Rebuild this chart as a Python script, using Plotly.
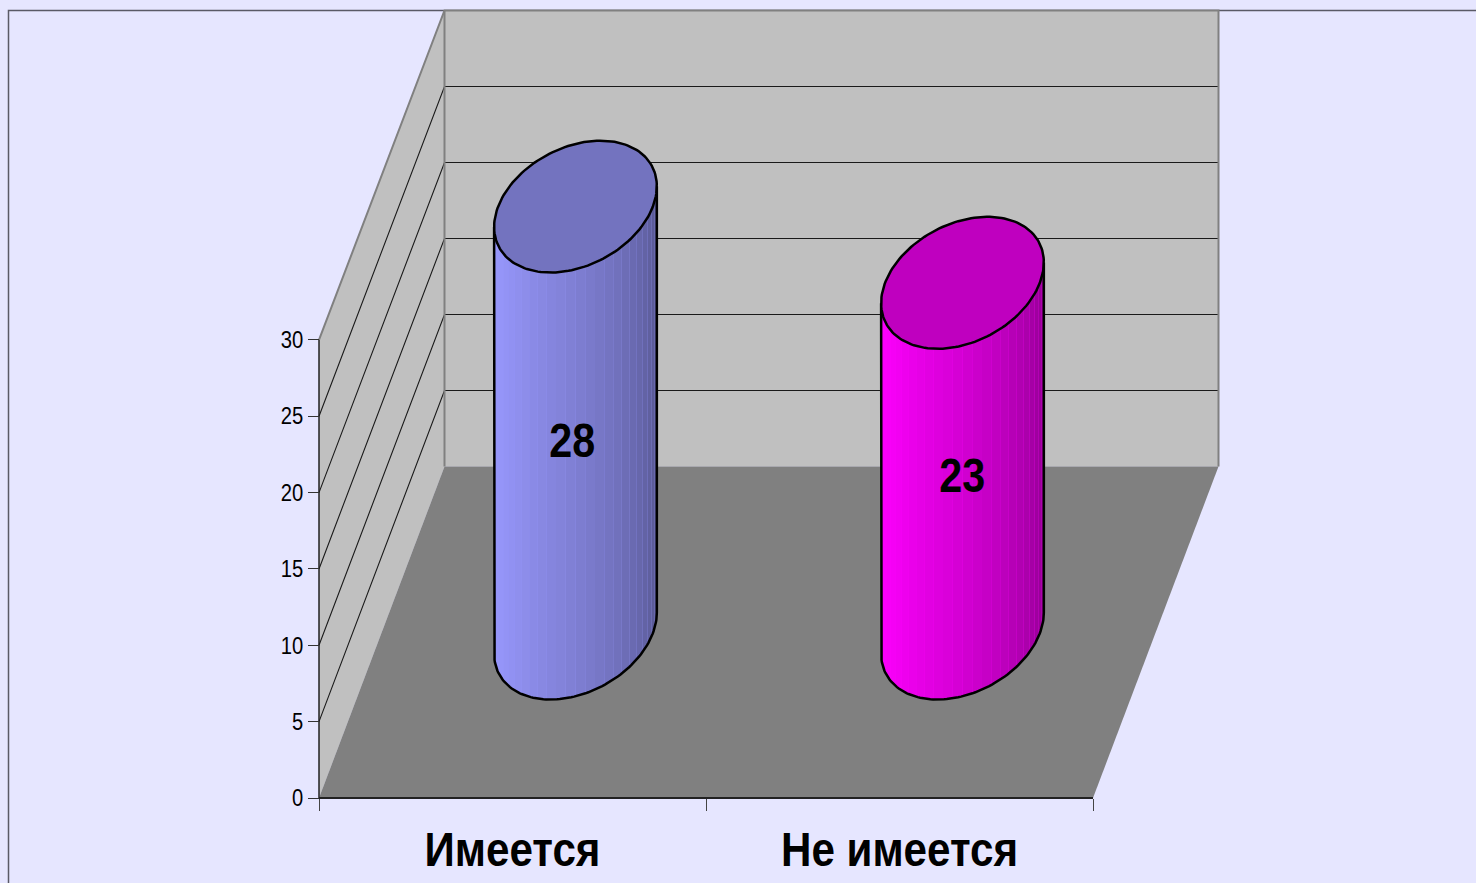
import numpy as np
import plotly.graph_objects as go

# ---- data -------------------------------------------------------------
categories = ["Имеется", "Не имеется"]
values = [28, 23]
y_ticks = [0, 5, 10, 15, 20, 25, 30]
side_colors = ["#9999FF", "#FF00FF"]
top_colors = ["#7373BF", "#BF00BF"]
label_offsets = [9.1, 9.33]
label_shift_px = [-3, 0]

# ---- chart geometry (pixels per data unit, oblique depth vector) --------
W, H = 1476, 883
PX_X, PX_Y = 387.0, 15.27
ORIGIN_X, ORIGIN_Y = 319.0, 798.0
DX, DY = 125.5 / PX_X, 331.5 / PX_Y
SHRINK = 0.0044       # values look slightly shorter towards the back
VMAX = 30
NCAT = len(categories)
RX, RZ = 0.20, 0.20   # cylinder radius: category units, depth fraction
ZC = 0.497            # depth of the cylinder axis
CX_NUDGE = 0.6 / PX_X
BG = "#E6E6FF"; WALL = "#C0C0C0"; FLOOR = "#808080"; EDGE = "#808080"
FONT = "Liberation Sans"


def proj(x, z, v):
    x, z, v = np.asarray(x, float), np.asarray(z, float), np.asarray(v, float)
    return x + z * DX, v * (1 - SHRINK * z) + z * DY


fig = go.Figure()


def poly(xs, ys, fill):
    fig.add_trace(go.Scatter(x=list(xs), y=list(ys), mode="lines", fill="toself",
                             fillcolor=fill, line=dict(width=0, color=fill),
                             hoverinfo="skip", showlegend=False))


def line(xs, ys, color, width):
    fig.add_trace(go.Scatter(x=list(xs), y=list(ys), mode="lines",
                             line=dict(color=color, width=width),
                             hoverinfo="skip", showlegend=False))


# outer chart frame
xl0 = -ORIGIN_X / PX_X; xl1 = (W - ORIGIN_X) / PX_X
yl0 = -(H - ORIGIN_Y) / PX_Y; yl1 = ORIGIN_Y / PX_Y
line([xl0 + 8.5 / PX_X, xl0 + 8.5 / PX_X, xl1], [yl0, yl1 - 10.5 / PX_Y, yl1 - 10.5 / PX_Y], "#5A5A66", 1.5)

# walls and floor
xs, ys = proj([0, 0, 0, 0], [0, 1, 1, 0], [0, 0, VMAX, VMAX])
poly(xs, ys, WALL)
xs, ys = proj([0, NCAT, NCAT, 0], [1, 1, 1, 1], [0, 0, VMAX, VMAX])
poly(xs, ys, WALL)
xs, ys = proj([0, NCAT, NCAT, 0], [0, 0, 1, 1], [0, 0, 0, 0])
poly(xs, ys, FLOOR)

# gridlines
for v in y_ticks[1:-1]:
    xs, ys = proj([0, 0, NCAT], [0, 1, 1], [v, v, v])
    line(xs, ys, "#1A1A1A", 1.1)

# wall edges
xs, ys = proj([0, 0, NCAT, NCAT], [0, 1, 1, 1], [VMAX, VMAX, VMAX, 0])
line(xs, ys, EDGE, 2)
xs, ys = proj([0, 0], [1, 1], [0, VMAX])
line(xs, ys, EDGE, 2)

# axis lines
line([0, 0], [0, VMAX], "#222222", 1.5)
line([0, NCAT], [0, 0], "#222222", 2)

# cylinders
t0 = np.arctan2(DX * RZ, RX)
N_STRIPS = 26
for i, (val, side, top) in enumerate(zip(values, side_colors, top_colors)):
    cx = i + 0.5 + CX_NUDGE
    rgb = np.array([int(side[k:k + 2], 16) for k in (1, 3, 5)], float)
    # solid body underneath, so seams between strips stay light
    tt = np.linspace(t0 + np.pi, t0 + 2 * np.pi, 90)
    bx, by = proj(cx + RX * np.cos(tt), ZC + RZ * np.sin(tt), 0 * tt)
    ux, uy = proj(cx + RX * np.cos(tt), ZC + RZ * np.sin(tt), val + 0 * tt)
    poly(np.r_[bx, ux[::-1], bx[0]], np.r_[by, uy[::-1], by[0]], side)
    edges = np.linspace(t0 + np.pi, t0 + 2 * np.pi, N_STRIPS + 1)
    for j in range(N_STRIPS):
        ts = np.linspace(edges[j], edges[j + 1], 3)
        f = (j + 0.5) / N_STRIPS
        shade = 1 - 0.46 * f ** 1.4
        if f < 0.1:
            shade *= 0.93 + 0.7 * f
        col = "rgb(%d,%d,%d)" % tuple(np.round(rgb * shade))
        sbx, sby = proj(cx + RX * np.cos(ts), ZC + RZ * np.sin(ts), 0 * ts)
        sux, suy = proj(cx + RX * np.cos(ts), ZC + RZ * np.sin(ts), val + 0 * ts)
        poly(np.r_[sbx, sux[::-1], sbx[0]], np.r_[sby, suy[::-1], sby[0]], col)
    # outline of the body
    ox = np.r_[ux[0], bx, ux[-1]]
    oy = np.r_[uy[0], by, uy[-1]]
    line(ox, oy, "#000000", 2.5)
    # top disc
    td = np.linspace(0, 2 * np.pi, 160)
    dx, dy = proj(cx + RX * np.cos(td), ZC + RZ * np.sin(td), val + 0 * td)
    fig.add_trace(go.Scatter(x=dx, y=dy, mode="lines", fill="toself", fillcolor=top,
                             line=dict(color="#000000", width=2.5),
                             hoverinfo="skip", showlegend=False))

# value labels
lx, _ = proj(np.array([0.5, 1.5]), [0.5, 0.5], np.array(values) / 2)
ly = np.array(values) / 2 + np.array(label_offsets)
fig.add_trace(go.Scatter(x=lx + np.array(label_shift_px) / PX_X, y=ly, mode="text",
                         text=[str(v) for v in values],
                         textposition="middle center",
                         textfont=dict(family=FONT, size=48, color="#000000", weight="bold"),
                         hoverinfo="skip", showlegend=False))

fig.update_layout(
    width=W, height=H,
    margin=dict(l=0, r=0, t=0, b=0, pad=0),
    paper_bgcolor=BG, plot_bgcolor=BG,
    showlegend=False, hovermode=False,
    xaxis=dict(
        range=[xl0, xl1], domain=[0, 1], anchor="free", position=(H - ORIGIN_Y) / H,
        showgrid=False, zeroline=False, showline=False,
        tickmode="array", tickvals=[i + 0.5 for i in range(NCAT)], ticktext=categories,
        ticks="", ticklabelstandoff=18,
        tickfont=dict(family=FONT, size=49, color="#000000", weight="bold"),
        minor=dict(tickmode="array", tickvals=list(range(NCAT + 1)), ticks="outside",
                   ticklen=12, tickwidth=1, tickcolor="#444444", showgrid=False),
    ),
    yaxis=dict(
        range=[yl0, yl1], domain=[0, 1], anchor="free", position=ORIGIN_X / W,
        showgrid=False, zeroline=False, showline=False,
        tickmode="array", tickvals=y_ticks, ticks="outside", ticklen=11, tickwidth=1,
        tickcolor="#333333",
        tickfont=dict(family=FONT, size=23.5, color="#000000"),
    ),
)

# the reference lettering is a little condensed: keep real text, squeeze it horizontally
squeeze = """
document.body.style.margin='0';document.body.style.overflow='hidden';
document.querySelectorAll('.xtick text,.ytick text,.textpoint text').forEach(function(t){
  var n=t.getComputedTextLength();
  t.setAttribute('lengthAdjust','spacingAndGlyphs');
  t.setAttribute('textLength',(n*0.86).toFixed(1));
});
"""
fig.write_html("out.html", config=dict(displayModeBar=False), post_script=squeeze)
